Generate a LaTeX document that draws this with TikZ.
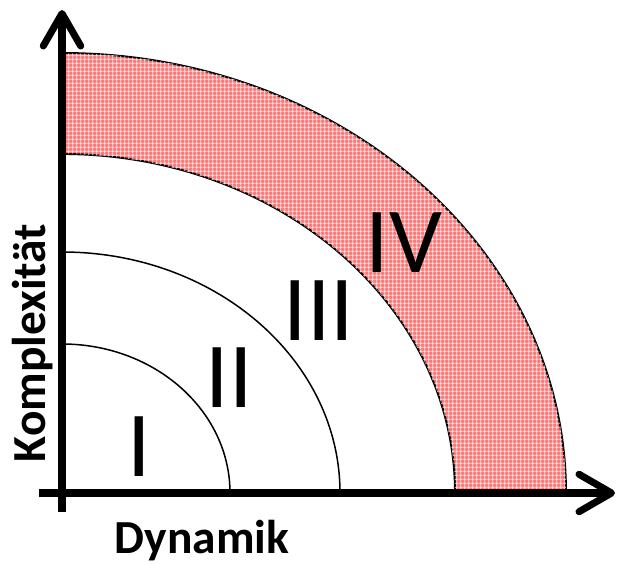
\documentclass[tikz,border=0pt]{standalone}
\usepackage{fontspec}
\setmainfont{Carlito}
\usepackage{tikz}
\usetikzlibrary{arrows.meta, patterns.meta}
\definecolor{bandpink}{HTML}{FF7878}
\tikzdeclarepattern{
  name=meshgrid,
  type=uncolored,
  bounding box={(0,0) and (2.4pt,2.4pt)},
  tile size={(2.4pt,2.4pt)},
  code={\draw[line width=0.6pt] (0,1.2pt) -- (2.4pt,1.2pt) (1.2pt,0) -- (1.2pt,2.4pt);}
}

\begin{document}
\begin{tikzpicture}[
    x=0.02cm, y=0.02cm,
    numeral/.style={font=\fontsize{53}{60}\selectfont, inner sep=0pt},
    axislabel/.style={font=\fontsize{27}{31}\selectfont\bfseries, inner sep=0pt, anchor=base},
    axis/.style={line width=4pt, -{Straight Barb[length=6.5mm, width=7.5mm, round]}},
    ring/.style={line width=0.85pt},
    band/.style={line width=1.1pt, fill=bandpink, postaction={pattern=meshgrid, pattern color=white!85!bandpink}}
]
\useasboundingbox (-62,-71) rectangle (555,493);

% Outer band (region IV)
\draw[band] (0,440) arc[start angle=90, end angle=0, x radius=504, y radius=440]
  -- (393,0) arc[start angle=0, end angle=90, x radius=393, y radius=339] -- cycle;

% Inner rings
\draw[ring] (0,149) arc[start angle=90, end angle=0, x radius=168, y radius=149];
\draw[ring] (0,241) arc[start angle=90, end angle=0, x radius=278, y radius=241];

% Axes
\coordinate (origin) at (0,0);
\coordinate (xstart) at (-23,0);
\coordinate (xend) at (553,0);
\coordinate (ystart) at (0,-19);
\coordinate (yend) at (0,483);
\draw[axis] (xstart) -- (xend);
\draw[axis] (ystart) -- (yend);

% Labels
\node[numeral] (one) at (77,46) {I};
\node[numeral] (two) at (167,115) {II};
\node[numeral] (three) at (257,182) {III};
\node[numeral] (four) at (342,250) {IV};
\node[axislabel] (dyn) at (140,-60) {Dynamik};
\node[axislabel, rotate=90] (kompl) at (-17,150) {Komplexität};

\end{tikzpicture}
\end{document}
